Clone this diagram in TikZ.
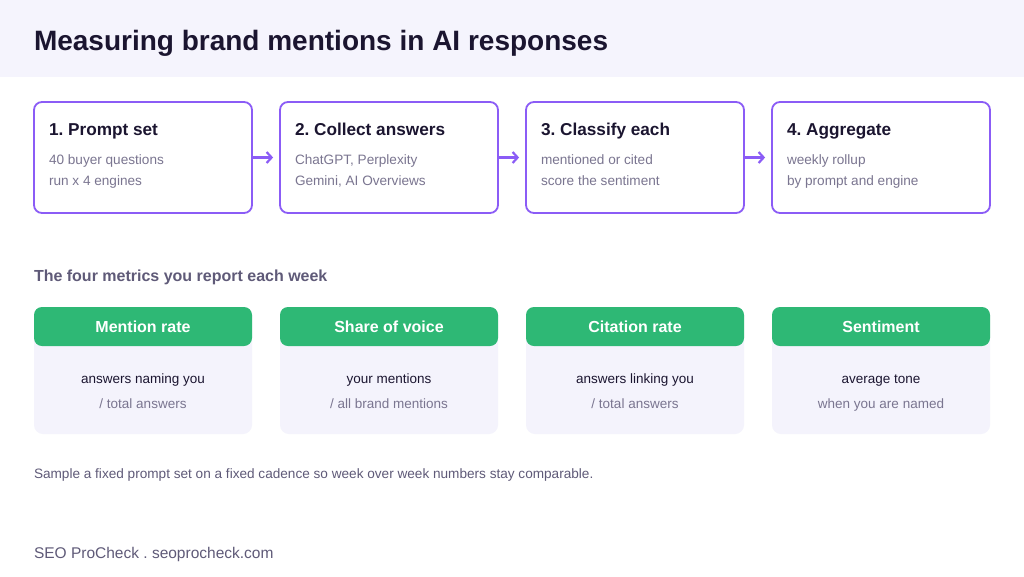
\documentclass[tikz,border=0pt]{standalone}
\usepackage{fontspec}
\setmainfont{Liberation Sans}
\usetikzlibrary{arrows.meta}
\definecolor{band}{HTML}{F5F4FD}
\definecolor{purp}{HTML}{8B5CF6}
\definecolor{ink}{HTML}{1B1530}
\definecolor{sub}{HTML}{7A7590}
\definecolor{muted}{HTML}{5F5A78}
\definecolor{grn}{HTML}{2EB875}
\definecolor{card}{HTML}{F4F3FC}
\newcommand{\fs}[1]{\fontsize{#1}{#1}\selectfont}
\frenchspacing
\begin{document}
\begin{tikzpicture}[x=1pt,y=-1pt,
  txt/.style={inner sep=0pt, outer sep=0pt},
  stepbox/.style={draw=purp, line width=1.8pt, rounded corners=8pt, fill=white, minimum width=218pt, minimum height=111pt, inner sep=0pt},
  steptitle/.style={txt, anchor=base west, text=ink, font=\fs{17.2}\bfseries},
  stepsub/.style={txt, anchor=base west, text=sub, font=\fs{13.6}},
  cardbody/.style={fill=card, rounded corners=9pt, minimum width=218pt, minimum height=127pt, inner sep=0pt},
  cardhead/.style={fill=grn, rounded corners=8pt, minimum width=218pt, minimum height=39pt, inner sep=0pt, text=white, font=\fs{16}\bfseries},
  cardmain/.style={txt, anchor=base, text=ink, font=\fs{13.5}},
  cardsub/.style={txt, anchor=base, text=sub, font=\fs{13.5}},
  arr/.style={draw=purp, line width=2.2pt, -{Straight Barb[length=5pt,width=11pt]}, shorten >=6pt}
]
\useasboundingbox (0,0) rectangle (1024,576);
\fill[white] (0,0) rectangle (1024,576);
\fill[band] (0,0) rectangle (1024,77);
\node[txt, anchor=base west, text=ink, font=\fs{28}\bfseries] (title) at (34,50) {Measuring brand mentions in AI responses};

% step boxes
\node[stepbox] (s1) at (143,157.5) {};
\node[stepbox] (s2) at (389,157.5) {};
\node[stepbox] (s3) at (635,157.5) {};
\node[stepbox] (s4) at (881,157.5) {};

\node[steptitle] (s1t) at (49,135) {1. Prompt set};
\node[stepsub] (s1a) at (49,164) {40 buyer questions};
\node[stepsub] (s1b) at (49,185) {run x 4 engines};

\node[steptitle] (s2t) at (295,135) {2. Collect answers};
\node[stepsub] (s2a) at (295,164) {ChatGPT, Perplexity};
\node[stepsub] (s2b) at (295,185) {Gemini, AI Overviews};

\node[steptitle] (s3t) at (541,135) {3. Classify each};
\node[stepsub] (s3a) at (541,164) {mentioned or cited};
\node[stepsub] (s3b) at (541,185) {score the sentiment};

\node[steptitle] (s4t) at (787,135) {4. Aggregate};
\node[stepsub] (s4a) at (787,164) {weekly rollup};
\node[stepsub] (s4b) at (787,185) {by prompt and engine};

\draw[arr] (s1.east) -- (s2.west);
\draw[arr] (s2.east) -- (s3.west);
\draw[arr] (s3.east) -- (s4.west);

% metrics heading
\node[txt, anchor=base west, text=muted, font=\fs{16}\bfseries] (mh) at (34,281.5) {The four metrics you report each week};

% metric cards
\node[cardbody] (m1) at (143,370.5) {};
\node[cardbody] (m2) at (389,370.5) {};
\node[cardbody] (m3) at (635,370.5) {};
\node[cardbody] (m4) at (881,370.5) {};

\node[cardhead] (h1) at (143,326.5) {Mention rate};
\node[cardhead] (h2) at (389,326.5) {Share of voice};
\node[cardhead] (h3) at (635,326.5) {Citation rate};
\node[cardhead] (h4) at (881,326.5) {Sentiment};

\node[cardmain] (m1a) at (143,383) {answers naming you};
\node[cardsub] (m1b) at (143,408) {/ total answers};
\node[cardmain] (m2a) at (389,383) {your mentions};
\node[cardsub] (m2b) at (389,408) {/ all brand mentions};
\node[cardmain] (m3a) at (635,383) {answers linking you};
\node[cardsub] (m3b) at (635,408) {/ total answers};
\node[cardmain] (m4a) at (881,383) {average tone};
\node[cardsub] (m4b) at (881,408) {when you are named};

\node[txt, anchor=base west, text=muted, font=\fs{13.6}] (note) at (34,478) {Sample a fixed prompt set on a fixed cadence so week over week numbers stay comparable.};
\node[txt, anchor=base west, text=muted, font=\fs{15.5}] (foot) at (34,558.5) {SEO ProCheck . seoprocheck.com};
\end{tikzpicture}
\end{document}
